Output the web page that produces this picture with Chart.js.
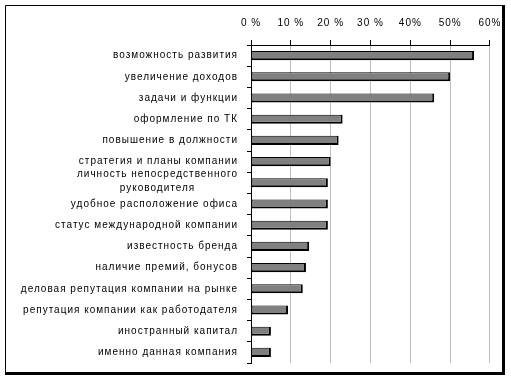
<!DOCTYPE html>
<html>
<head>
<meta charset="utf-8">
<script src="https://cdn.jsdelivr.net/npm/chart.js@4/dist/chart.umd.min.js"></script>
<style>
  html, body { margin: 0; padding: 0; background: #fff; }
  #wrap { width: 511px; height: 381px; position: relative; }
</style>
</head>
<body>
<div id="wrap"><canvas id="c" width="511" height="381"></canvas></div>
<script>
const categories = [
  "возможность развития",
  "увеличение доходов",
  "задачи и функции",
  "оформление по ТК",
  "повышение в должности",
  "стратегия и планы компании",
  ["личность непосредственного", "руководителя"],
  "удобное расположение офиса",
  "статус международной компании",
  "известность бренда",
  "наличие премий, бонусов",
  "деловая репутация компании на рынке",
  "репутация компании как работодателя",
  "иностранный капитал",
  "именно данная компания"
];
const values = [56, 50, 46, 23, 22, 20, 19.3, 19.3, 19.3, 14.6, 13.8, 13, 9.3, 5, 5];
const xTickLabels = ["0 %", "10 %", "20 %", "30 %", "40%", "50%", "60%"];

const LABEL_FONT = '10px "Liberation Sans", Arial, sans-serif';

const frame = {
  id: 'frame',
  beforeDraw(chart) {
    const ctx = chart.ctx;
    ctx.letterSpacing = '1px';
    ctx.save();
    ctx.fillStyle = '#fff';
    ctx.fillRect(0, 0, chart.width, chart.height);
    ctx.restore();
  },
  afterDraw(chart) {
    const ctx = chart.ctx;
    const ys = chart.scales.y;
    // category labels (right aligned; wrapped lines centred under the first line)
    ctx.save();
    ctx.letterSpacing = '1px';
    ctx.font = LABEL_FONT;
    ctx.fillStyle = '#000';
    ctx.textBaseline = 'middle';
    const xr = ys.right - 13;
    chart.data.labels.forEach((lab, i) => {
      const y = ys.getPixelForTick(i);
      if (Array.isArray(lab)) {
        const w1 = ctx.measureText(lab[0]).width;
        const cx = xr - w1 / 2;
        const lh = 14;
        const y0 = y - 2 - lh * (lab.length - 1) / 2;
        lab.forEach((line, k) => {
          if (k === 0) { ctx.textAlign = 'right'; ctx.fillText(line, xr, y0); }
          else { ctx.textAlign = 'center'; ctx.fillText(line, cx, y0 + k * lh); }
        });
      } else {
        ctx.textAlign = 'right';
        ctx.fillText(lab, xr, y);
      }
    });
    ctx.restore();

    // outer frame with heavier right/bottom edge
    ctx.save();
    ctx.strokeStyle = '#000';
    ctx.lineWidth = 1;
    ctx.beginPath();
    ctx.moveTo(5.5, 373);
    ctx.lineTo(5.5, 5.5);
    ctx.lineTo(503, 5.5);
    ctx.stroke();
    ctx.fillStyle = '#000';
    ctx.fillRect(502, 5, 3, 370);
    ctx.fillRect(5, 372, 500, 3);
    ctx.restore();
  }
};

new Chart(document.getElementById('c'), {
  type: 'bar',
  data: {
    labels: categories,
    datasets: [{
      data: values,
      backgroundColor: '#808080',
      borderColor: '#000',
      borderWidth: { top: 1, left: 1, bottom: 2, right: 2 },
      borderSkipped: false,
      barPercentage: 0.43,
      categoryPercentage: 1.0
    }]
  },
  options: {
    indexAxis: 'y',
    responsive: false,
    animation: false,
    devicePixelRatio: 1,
    layout: { padding: { left: 0, right: 20, top: 0, bottom: 18 } },
    plugins: { legend: { display: false }, tooltip: { enabled: false } },
    scales: {
      x: {
        position: 'top',
        min: 0, max: 60,
        ticks: {
          stepSize: 10,
          color: '#000',
          font: { family: 'Liberation Sans, Arial, sans-serif', size: 10 },
          padding: 11,
          callback: (v, i) => xTickLabels[i]
        },
        grid: { color: '#c0c0c0', tickColor: '#000', tickLength: 5, lineWidth: 1 },
        border: { color: '#000', width: 1 },
        afterFit(scale) { scale.height = 45; }
      },
      y: {
        ticks: { display: false, autoSkip: false },
        grid: { drawOnChartArea: false, drawTicks: true, tickColor: '#000', tickLength: 4, offset: true },
        border: { color: '#000', width: 1 },
        afterFit(scale) { scale.width = 251; }
      }
    }
  },
  plugins: [frame]
});
</script>
</body>
</html>
